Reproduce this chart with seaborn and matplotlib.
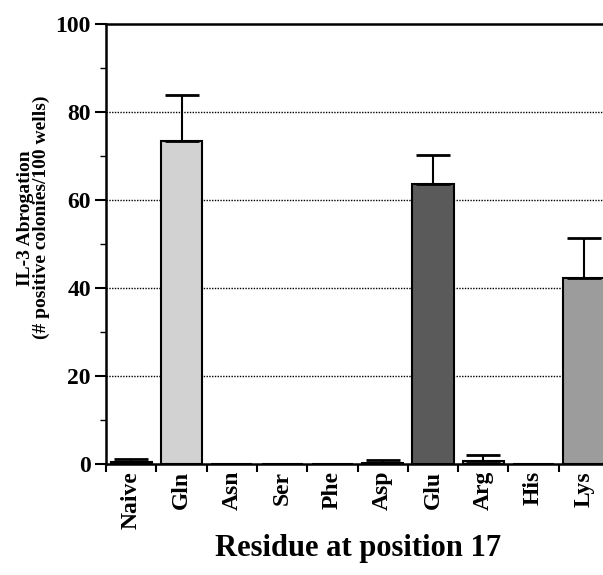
import numpy as np
import pandas as pd
import matplotlib
matplotlib.use('Agg')
import matplotlib.pyplot as plt
import seaborn as sns

residues = ['Naive', 'Gln', 'Asn', 'Ser', 'Phe', 'Asp', 'Glu', 'Arg', 'His', 'Lys']
abrogation = [0.4, 73.5, 0, 0, 0, 0.3, 63.7, 0.8, 0, 42.4]
err_upper = [0.8, 10.3, 0, 0, 0, 0.7, 6.5, 1.2, 0, 8.9]
bar_colors = ['#dcdcdc', '#d2d2d2', '#ffffff', '#ffffff', '#ffffff',
              '#c8c8c8', '#5a5a5a', '#c8c8c8', '#ffffff', '#9c9c9c']

df = pd.DataFrame({'residue': residues, 'value': abrogation})

sns.set_style('white')
plt.rcParams['font.family'] = ['Liberation Serif', 'DejaVu Serif']
plt.rcParams['font.weight'] = 'bold'
plt.rcParams['text.color'] = 'black'
plt.rcParams['axes.labelcolor'] = 'black'
plt.rcParams['xtick.color'] = 'black'
plt.rcParams['ytick.color'] = 'black'

fig = plt.figure(figsize=(6.03, 5.75), dpi=100)
ax = fig.add_axes([0.176, 0.193, 0.834, 0.765])

sns.barplot(data=df, x='residue', y='value', hue='residue', palette=bar_colors,
            legend=False, width=0.82, edgecolor='black', linewidth=1.5, ax=ax)

# upper error bars only
xs = np.arange(len(residues))
for x, v, e in zip(xs, abrogation, err_upper):
    if e > 0:
        ax.errorbar(x, v, yerr=[[0], [e]], color='black', capsize=12,
                    elinewidth=1.5, capthick=2, zorder=3)

ax.set_xlim(-0.5, 9.5)
ax.set_ylim(0, 100)
ax.set_yticks([0, 20, 40, 60, 80, 100])
ax.set_yticks([10, 30, 50, 70, 90], minor=True)
for yv in [20, 40, 60, 80]:
    ax.axhline(yv, color='black', linestyle=(0, (1, 1)), linewidth=1, zorder=0)

ax.set_xticks(xs)
ax.set_xticklabels(residues, rotation=90, fontsize=17, fontweight='bold')
ax.set_xticks(np.arange(-0.5, 9.5, 1), minor=True)
ax.tick_params(axis='x', which='major', length=0, pad=5)
ax.tick_params(axis='x', which='minor', length=6, width=1.5, direction='out', bottom=True)
ax.tick_params(axis='y', which='major', length=8, width=1.5, direction='out', left=True,
               labelsize=17, pad=3)
ax.tick_params(axis='y', which='minor', length=4, width=1, direction='out', left=True)
for lab in ax.get_yticklabels():
    lab.set_fontweight('bold')

for side in ['left', 'bottom', 'top', 'right']:
    ax.spines[side].set_color('black')
    ax.spines[side].set_linewidth(1.8)

ax.set_xlabel('Residue at position 17', fontsize=22, fontweight='bold', labelpad=4)
ax.set_ylabel('IL-3 Abrogation\n(# positive colonies/100 wells)', fontsize=14,
              fontweight='bold', linespacing=0.9)
ax.yaxis.set_label_coords(-0.111, 0.56)

fig.savefig('out.png', dpi=100)
